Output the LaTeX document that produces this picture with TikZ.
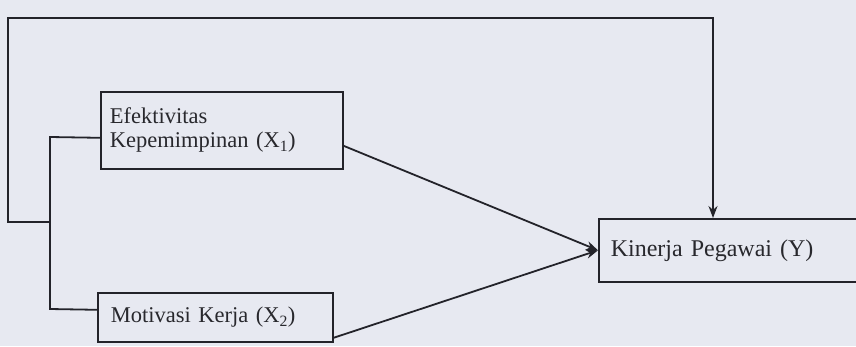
\documentclass[tikz,border=0pt]{standalone}
\usepackage{fontspec}
\setmainfont{Liberation Serif}
\usetikzlibrary{arrows.meta,calc}
\definecolor{bgcol}{RGB}{231,233,241}
\definecolor{inkcol}{RGB}{35,35,42}
\definecolor{txtcol}{RGB}{40,40,45}
\begin{document}
\begin{tikzpicture}[x=1pt,y=-1pt,
  varbox/.style={draw=inkcol, line width=1.6pt, rectangle, anchor=north west, align=left,
    font=\fontsize{22.5}{24}\selectfont, text=txtcol},
  conn/.style={draw=inkcol, line width=1.8pt},
  arr/.style={conn, -{Stealth[length=12pt,width=9pt]}}]
\useasboundingbox (0,0) rectangle (856,346);
\fill[bgcol] (0,0) rectangle (856,346);
\clip (0,0) rectangle (856,346);
\node[varbox, minimum width=242pt, minimum height=77pt, text width=224pt, inner xsep=9pt] (x1) at (100,91)
  {Efektivitas\\Kepemimpinan (X\textsubscript{1})};
\node[varbox, minimum width=235pt, minimum height=49pt, text width=209pt, inner xsep=13pt] (x2) at (97,292)
  {Motivasi Kerja (X\textsubscript{2})};
\node[varbox, minimum width=280pt, minimum height=63pt, text width=256pt, inner xsep=12pt,
  font=\fontsize{24}{26}\selectfont] (y) at (598,218)
  {Kinerja Pegawai (Y)};
% inner bracket
\coordinate (b1) at (50,137);
\coordinate (b2) at (50,309);
\coordinate (j) at (50,222);
\draw[conn] ([yshift=-7.5pt]x1.west) -- (b1) -- (b2) -- ([yshift=7.5pt]x2.west);
% outer loop
\coordinate (c1) at (8,222);
\coordinate (c2) at (8,18);
\coordinate (c3) at (713,18);
\draw[arr] (j) -- (c1) -- (c2) -- (c3) -- (c3 |- y.north);
% direct arrows
\draw[arr] ([yshift=-15.5pt]x1.east) -- (y.west);
\draw[arr] ([yshift=-20.5pt]x2.east) -- (y.west);
\end{tikzpicture}
\end{document}
